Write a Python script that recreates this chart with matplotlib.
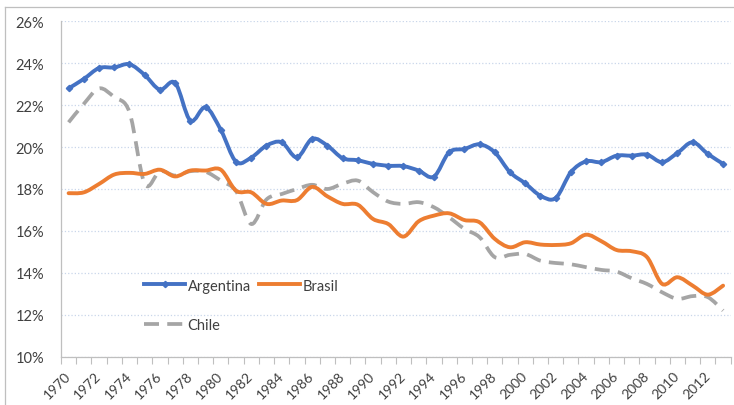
import matplotlib
matplotlib.use("Agg")
import matplotlib.pyplot as plt
from matplotlib.path import Path
from matplotlib.patches import PathPatch
from matplotlib.lines import Line2D
from matplotlib.ticker import FuncFormatter

plt.rcParams['font.family'] = ['Lato', 'DejaVu Sans']

years = list(range(1970, 2014))

argentina = [22.8, 23.25, 23.77, 23.8, 23.95, 23.44, 22.74, 23.06, 21.26, 21.9,
             20.82, 19.3, 19.5, 20.07, 20.23, 19.51, 20.39, 20.07, 19.47, 19.37,
             19.2, 19.11, 19.09, 18.88, 18.59, 19.75, 19.91, 20.13, 19.75, 18.8,
             18.27, 17.68, 17.57, 18.8, 19.32, 19.28, 19.59, 19.59, 19.64, 19.28,
             19.72, 20.23, 19.67, 19.2]

brasil = [17.8, 17.84, 18.24, 18.69, 18.77, 18.72, 18.92, 18.6, 18.88, 18.88,
          18.92, 17.92, 17.84, 17.29, 17.45, 17.47, 18.1, 17.65, 17.29, 17.25,
          16.57, 16.33, 15.73, 16.46, 16.73, 16.84, 16.52, 16.41, 15.62, 15.22,
          15.46, 15.35, 15.33, 15.41, 15.82, 15.51, 15.09, 15.03, 14.75, 13.47,
          13.79, 13.39, 12.96, 13.39]

chile = [21.18, 22.06, 22.8, 22.38, 21.66, 18.25, 18.85, 18.64, 18.85, 18.82,
         18.4, 17.9, 16.33, 17.5, 17.76, 18.0, 18.2, 18.0, 18.25, 18.4,
         17.85, 17.4, 17.29, 17.37, 17.13, 16.65, 16.1, 15.7, 14.75, 14.86,
         14.9, 14.58, 14.47, 14.41, 14.27, 14.14, 14.06, 13.74, 13.47, 13.07,
         12.76, 12.89, 12.84, 12.2]

BLUE = '#4472C4'
ORANGE = '#ED7D31'
GRAY = '#A5A5A5'
TEXT = '#404040'


def smooth_path(xs, ys):
    # Excel style smoothed line: cubic bezier through every point
    pts = list(zip(xs, ys))
    verts = [pts[0]]
    codes = [Path.MOVETO]
    n = len(pts)
    for i in range(n - 1):
        p0 = pts[i - 1] if i > 0 else pts[i]
        p1 = pts[i]
        p2 = pts[i + 1]
        p3 = pts[i + 2] if i + 2 < n else pts[i + 1]
        c1 = (p1[0] + (p2[0] - p0[0]) / 6, p1[1] + (p2[1] - p0[1]) / 6)
        c2 = (p2[0] - (p3[0] - p1[0]) / 6, p2[1] - (p3[1] - p1[1]) / 6)
        verts += [c1, c2, p2]
        codes += [Path.CURVE4] * 3
    return Path(verts, codes)


fig = plt.figure(figsize=(7.34, 4.06), dpi=100)
ax = fig.add_axes([61 / 734, 1 - 357.7 / 406, 669.7 / 734, 335.4 / 406])

x = list(range(len(years)))

ax.add_patch(PathPatch(smooth_path(x, chile), fill=False, edgecolor=GRAY,
                       lw=2.7, linestyle=(0, (4, 2.2)), zorder=3))
ax.add_patch(PathPatch(smooth_path(x, brasil), fill=False, edgecolor=ORANGE,
                       lw=2.8, capstyle='round', zorder=4))
ax.add_patch(PathPatch(smooth_path(x, argentina), fill=False, edgecolor=BLUE,
                       lw=2.8, capstyle='round', zorder=5))
ax.plot(x, argentina, linestyle='none', marker='D', ms=3.2, color=BLUE, zorder=6)

ax.set_xlim(-0.5, len(years) - 0.5)
ax.set_ylim(10, 26)
ax.set_yticks(range(10, 27, 2))
ax.yaxis.set_major_formatter(FuncFormatter(lambda v, p: '%d%%' % v))

ax.set_xticks([i - 0.5 for i in range(len(years) + 1)])
ax.set_xticklabels([])
ax.set_xticks(x[::2], minor=True)
ax.set_xticklabels([str(y) for y in years[::2]], minor=True, rotation=45,
                   ha='right', va='center', rotation_mode='anchor')
ax.tick_params(axis='x', which='major', length=5, color='#BFBFBF', width=0.8)
ax.tick_params(axis='x', which='minor', length=0, pad=12, labelsize=10, labelcolor=TEXT)
ax.tick_params(axis='y', length=0, pad=12, labelsize=10.5, labelcolor=TEXT)

ax.grid(axis='y', color='#C9D6EA', linestyle=':', lw=0.9)
ax.set_axisbelow(True)
for side in ['top', 'right']:
    ax.spines[side].set_visible(False)
for side in ['left', 'bottom']:
    ax.spines[side].set_color('#BFBFBF')
    ax.spines[side].set_linewidth(0.9)

# legend filled column by column: Argentina/Chile, then Brasil
handles = [
    Line2D([], [], color=BLUE, lw=2.8, marker='D', ms=3.2, markevery=[1]),
    Line2D([], [], color=GRAY, lw=2.7, linestyle=(0, (4, 2.2))),
    Line2D([], [], color=ORANGE, lw=2.8),
]
leg = ax.legend(handles, ['Argentina', 'Chile', 'Brasil'], ncol=2, frameon=False,
                loc='upper left', bbox_to_anchor=(0.105, 0.272),
                handlelength=2.8, handletextpad=0.15, columnspacing=0.6,
                labelspacing=1.75, fontsize=10.5)
for t in leg.get_texts():
    t.set_color(TEXT)

# chart area border (left and top only are visible)
fig.add_artist(Line2D([5 / 734, 5 / 734], [0, 1 - 8 / 406], color='#BFBFBF', lw=0.9))
fig.add_artist(Line2D([5 / 734, 1], [1 - 8 / 406, 1 - 8 / 406], color='#BFBFBF', lw=0.9))

fig.savefig('out.png', dpi=100)
